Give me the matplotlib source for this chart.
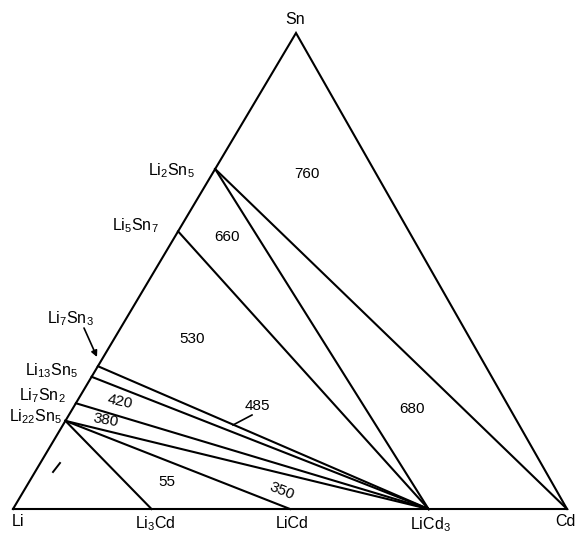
import matplotlib
matplotlib.use("Agg")
import matplotlib.pyplot as plt

plt.rcParams["font.family"] = ["Liberation Sans", "DejaVu Sans"]
plt.rcParams["mathtext.default"] = "regular"

# compounds: (name, x_Cd, x_Sn) as mole fractions
edge_names = ["Li2Sn5", "Li5Sn7", "Li7Sn3", "Li13Sn5", "Li7Sn2", "Li22Sn5",
              "Li3Cd", "LiCd", "LiCd3", "Li", "Cd", "Sn"]
edge_xcd = [0, 0, 0, 0, 0, 0, 0.25, 0.5, 0.75, 0, 1, 0]
edge_xsn = [5 / 7, 7 / 12, 3 / 10, 5 / 18, 2 / 9, 5 / 27, 0, 0, 0, 0, 0, 1]

# tie lines between phases
tie_lines = [
    ("Li2Sn5", "Cd"),
    ("Li2Sn5", "LiCd3"),
    ("Li5Sn7", "LiCd3"),
    ("Li7Sn3", "LiCd3"),
    ("Li13Sn5", "LiCd3"),
    ("Li7Sn2", "LiCd3"),
    ("Li22Sn5", "LiCd3"),
    ("Li22Sn5", "LiCd"),
    ("Li22Sn5", "Li3Cd"),
]

# field temperatures / labels
field_text = ["760", "660", "530", "680", "485", "420", "380", "55", "350"]
field_pos = [(307, 174), (227, 237), (192, 339), (412, 409), (257, 406),
             (120, 402), (106, 420), (167, 482), (282, 491)]
field_rot = [0, 0, 0, 0, 0, -12, -10, 0, -22]

# triangle vertices (pixel layout)
V_LI = (13, 509)
V_CD = (567, 509)
V_SN = (296, 33)


def tern(xcd, xsn):
    xli = 1 - xcd - xsn
    x = xli * V_LI[0] + xcd * V_CD[0] + xsn * V_SN[0]
    y = xli * V_LI[1] + xcd * V_CD[1] + xsn * V_SN[1]
    return x, y


pts = {n: tern(c, s) for n, c, s in zip(edge_names, edge_xcd, edge_xsn)}

fig = plt.figure(figsize=(5.78, 5.41), dpi=100)
ax = fig.add_axes([0, 0, 1, 1])
ax.set_xlim(0, 578)
ax.set_ylim(541, 0)
ax.axis("off")

lw = 1.5
tri = [pts["Li"], pts["Cd"], pts["Sn"], pts["Li"]]
ax.plot([p[0] for p in tri], [p[1] for p in tri], color="black", lw=lw,
        solid_joinstyle="miter")
for a, b in tie_lines:
    ax.plot([pts[a][0], pts[b][0]], [pts[a][1], pts[b][1]], color="black", lw=lw)

fs = 11.5
# corner / base labels
ax.text(295, 19, "Sn", ha="center", va="center", fontsize=fs)
ax.text(18, 522, "Li", ha="center", va="center", fontsize=fs)
ax.text(155, 524, "Li$_3$Cd", ha="center", va="center", fontsize=fs)
ax.text(292, 524, "LiCd", ha="center", va="center", fontsize=fs)
ax.text(430, 525, "LiCd$_3$", ha="center", va="center", fontsize=fs)
ax.text(565, 522, "Cd", ha="center", va="center", fontsize=fs)

# Li-Sn edge labels
ax.text(195, 171, "Li$_2$Sn$_5$", ha="right", va="center", fontsize=fs)
ax.text(159, 226, "Li$_5$Sn$_7$", ha="right", va="center", fontsize=fs)
ax.text(70, 319, "Li$_7$Sn$_3$", ha="center", va="center", fontsize=fs)
ax.text(78, 371, "Li$_{13}$Sn$_5$", ha="right", va="center", fontsize=fs)
ax.text(66, 396, "Li$_7$Sn$_2$", ha="right", va="center", fontsize=fs)
ax.text(62, 417, "Li$_{22}$Sn$_5$", ha="right", va="center", fontsize=fs)

ax.annotate("", xy=(97, 357), xytext=(84, 328),
            arrowprops=dict(arrowstyle="-|>", color="black", lw=1.2,
                            mutation_scale=9, shrinkA=0, shrinkB=0))

for t, (x, y), r in zip(field_text, field_pos, field_rot):
    ax.text(x, y, t, ha="center", va="center", fontsize=11, rotation=r,
            rotation_mode="anchor")

# leader for 485 and small mark in Li corner
ax.plot([252, 233], [415, 425], color="black", lw=1.2)
ax.plot([53, 60], [472, 463], color="black", lw=1.4)

fig.savefig("out.png", dpi=100)
